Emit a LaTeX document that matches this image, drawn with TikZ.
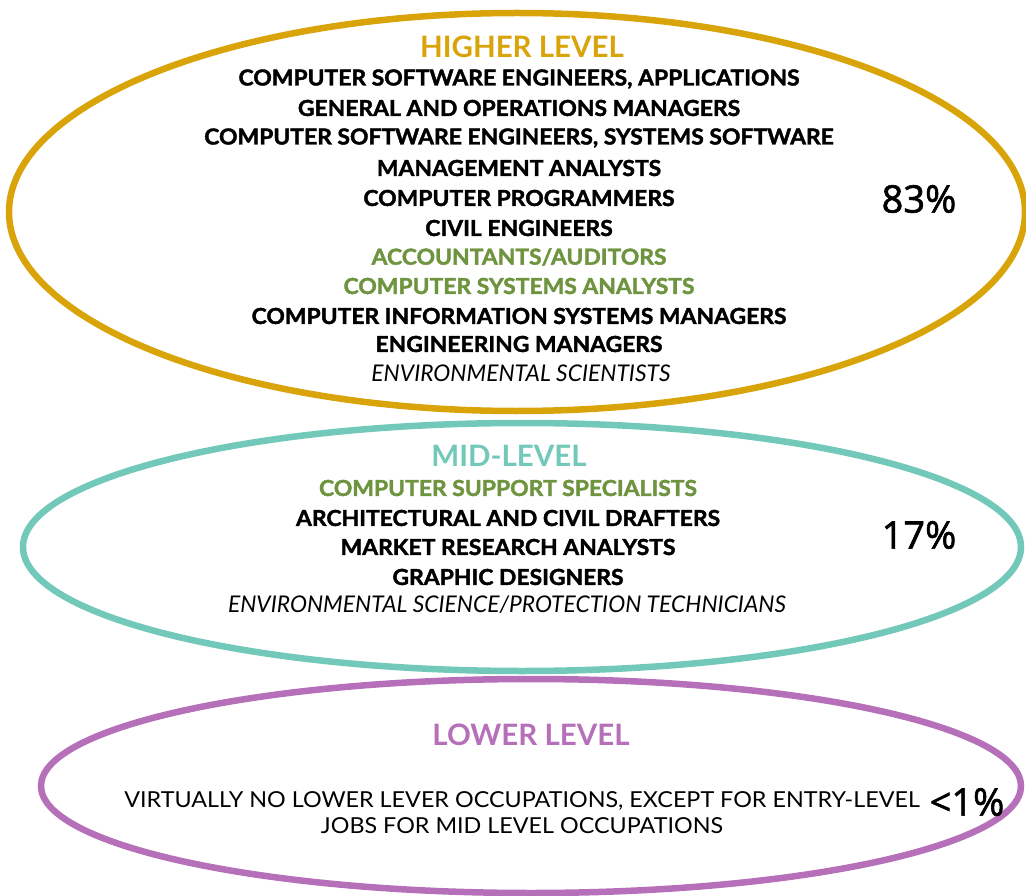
\documentclass[tikz,border=0pt]{standalone}
\usepackage{fontspec}
\setmainfont{Lato}
\newfontfamily\gillh{Lato Bold}[FakeStretch=1.0]
\newfontfamily\gillb{Lato Bold}[FakeStretch=1.04, FakeBold=1.8]
\newfontfamily\gilli{Lato Italic}[FakeStretch=0.99]
\newfontfamily\gillr{Lato}[FakeStretch=1.06]
\newfontfamily\pctfont{Open Sans}[FakeBold=1.6]
\definecolor{gold}{HTML}{D9A40A}
\definecolor{teal}{HTML}{72C8B9}
\definecolor{purp}{HTML}{B66FB9}
\definecolor{olive}{HTML}{6E9440}
\tikzset{
  ring/.style={line width=6.5pt},
  head/.style={font=\gillh\fontsize{29.5}{31}\selectfont},
  job/.style={font=\gillb\fontsize{22}{24}\selectfont, text=black},
  jobi/.style={font=\gilli\fontsize{23}{25}\selectfont, text=black},
  jobr/.style={font=\gillr\fontsize{22}{26}\selectfont, text=black, align=center},
  pct/.style={font=\pctfont\fontsize{38}{40}\selectfont, text=black},
  green/.style={job, text=olive}
}
\begin{document}
\begin{tikzpicture}[x=1pt,y=-1pt]
\useasboundingbox (0,0) rectangle (1026,896);
\draw[ring, gold] (517,212) ellipse [x radius=508, y radius=199];
\draw[ring, teal] (522,547) ellipse [x radius=499, y radius=124];
\draw[ring, purp] (531,786) ellipse [x radius=490, y radius=107];

\node[head, text=gold] (h) at (522,47) {HIGHER LEVEL};
\node[job] (h1) at (519,79) {COMPUTER SOFTWARE ENGINEERS, APPLICATIONS};
\node[job] (h2) at (519,108) {GENERAL AND OPERATIONS MANAGERS};
\node[job] (h3) at (519,138) {COMPUTER SOFTWARE ENGINEERS, SYSTEMS SOFTWARE};
\node[job] (h4) at (519,168) {MANAGEMENT ANALYSTS};
\node[job] (h5) at (519,198) {COMPUTER PROGRAMMERS};
\node[job] (h6) at (519,228) {CIVIL ENGINEERS};
\node[green] (h7) at (519,257) {ACCOUNTANTS/AUDITORS};
\node[green] (h8) at (519,286) {COMPUTER SYSTEMS ANALYSTS};
\node[job] (h9) at (519,316) {COMPUTER INFORMATION SYSTEMS MANAGERS};
\node[job] (h10) at (519,344) {ENGINEERING MANAGERS};
\node[jobi] (h11) at (521,373) {ENVIRONMENTAL SCIENTISTS};
\node[pct] (p1) at (919,199) {83\%};

\node[head, text=teal] (m) at (509,456) {MID-LEVEL};
\node[green] (m1) at (508,488) {COMPUTER SUPPORT SPECIALISTS};
\node[job] (m2) at (508,518) {ARCHITECTURAL AND CIVIL DRAFTERS};
\node[job] (m3) at (508,547) {MARKET RESEARCH ANALYSTS};
\node[job] (m4) at (508,577) {GRAPHIC DESIGNERS};
\node[jobi] (m5) at (507,605) {ENVIRONMENTAL SCIENCE/PROTECTION TECHNICIANS};
\node[pct] (p2) at (919,535) {17\%};

\node[head, text=purp] (l) at (531,735) {LOWER LEVEL};
\node[jobr] (l1) at (522,813) {VIRTUALLY NO LOWER LEVER OCCUPATIONS, EXCEPT FOR ENTRY-LEVEL\\JOBS FOR MID LEVEL OCCUPATIONS};
\node[pct] (p3) at (967,802) {<1\%};
\end{tikzpicture}
\end{document}
